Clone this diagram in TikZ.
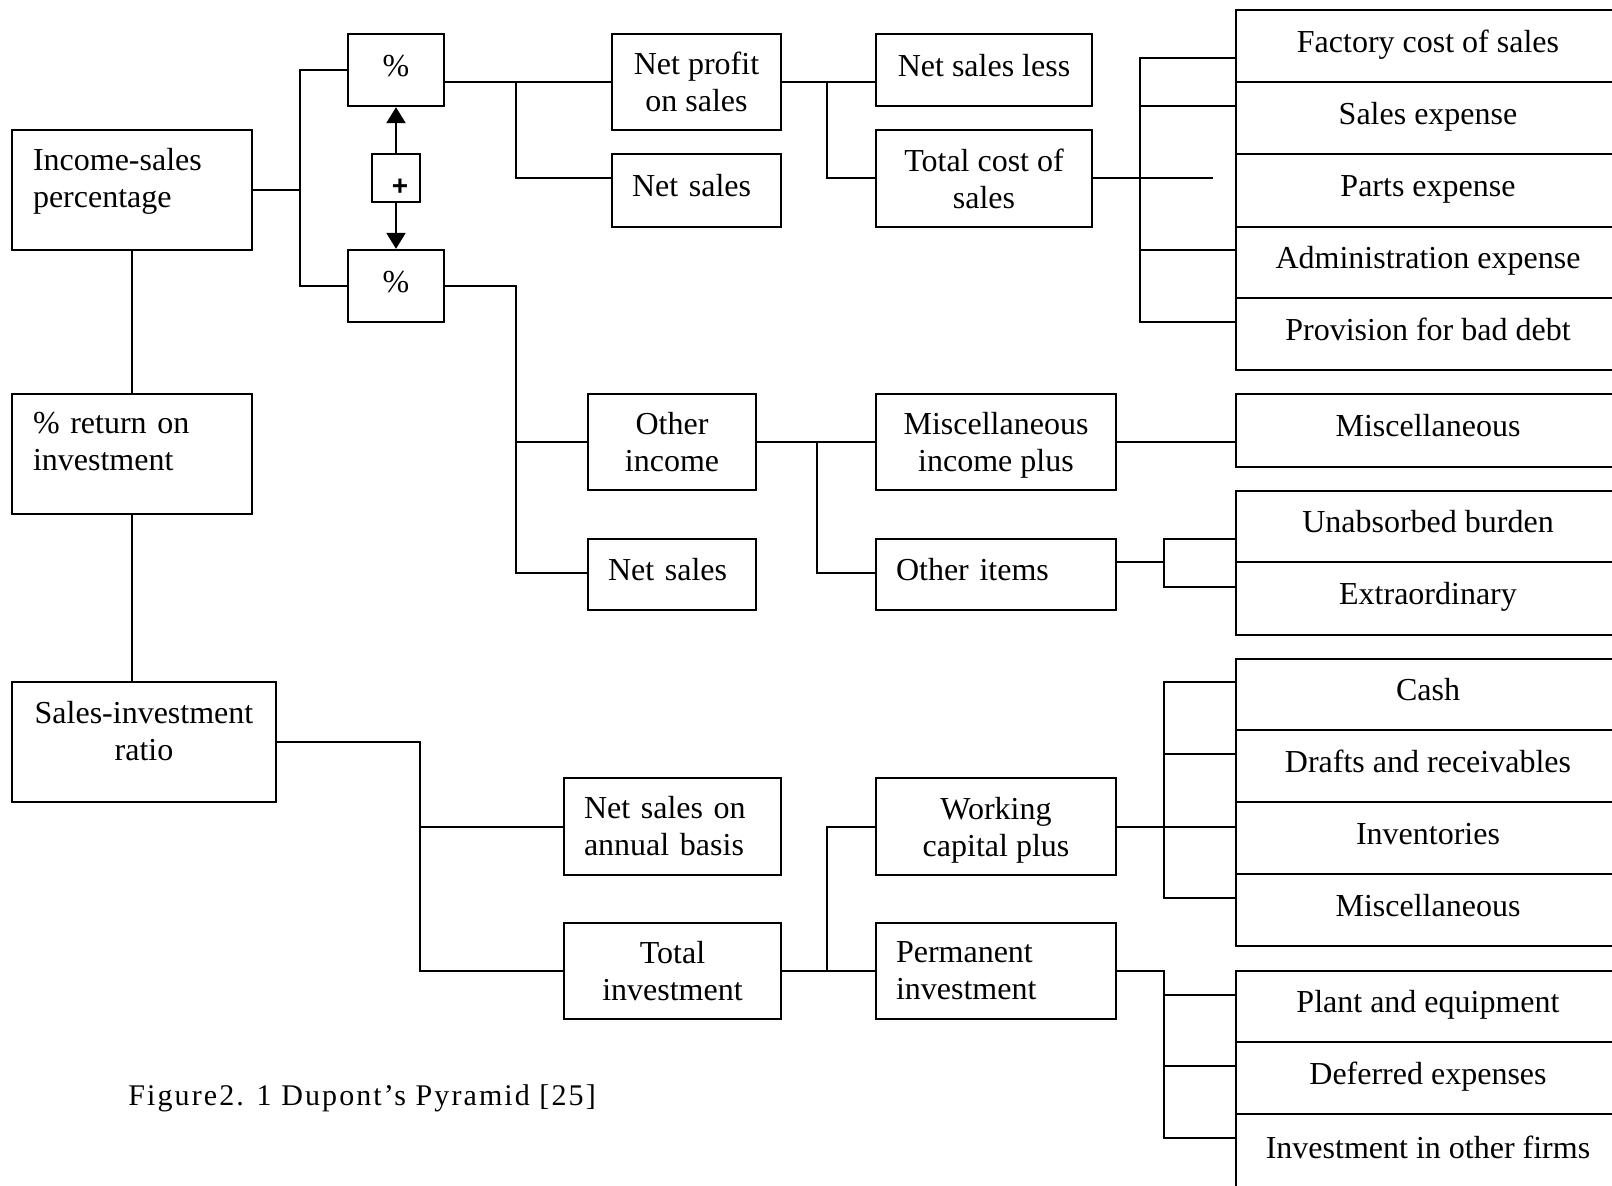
\documentclass[tikz,border=0pt]{standalone}
\usepackage{fontspec}
\setmainfont{Liberation Serif}
\newfontfamily\plusfont{Liberation Sans}
\newfontfamily\capfont[LetterSpace=7]{Liberation Serif}
\usetikzlibrary{arrows.meta}

\tikzset{
  box/.style={draw, line width=1.15pt, inner sep=0pt, align=center,
    font=\fontsize{16pt}{18.5pt}\selectfont},
  single/.style={text height=11pt, text depth=5pt},
  cell/.style={box, single, minimum width=192pt},
  conn/.style={line width=1pt},
  arr/.style={conn, -{Triangle[length=8pt,width=9.5pt]}}
}

\begin{document}
\begin{tikzpicture}[x=0.5pt, y=-0.5pt]
\useasboundingbox (0,0) rectangle (1612,1185);

% left column
\node[box, minimum width=120pt, minimum height=60pt, align=left, text width=99pt, text depth=31pt] (inc) at (132,190) {Income-sales\\percentage};
\node[box, minimum width=120pt, minimum height=60pt, align=left, text width=99pt, text depth=31.5pt] (ret) at (132,454) {\% return on\\investment};
\node[box, minimum width=132pt, minimum height=60pt, text depth=11pt] (sir) at (144,742) {Sales-investment\\ratio};

% ratio boxes and their link
\node[box, single, minimum width=48pt, minimum height=36pt] (pctA) at (396,70) {\%};
\node[box, single, minimum width=48pt, minimum height=36pt] (pctB) at (396,286) {\%};
\node[box, minimum width=24pt, minimum height=24pt, text height=17pt, text depth=0pt, font=\plusfont\bfseries\fontsize{14pt}{14pt}\selectfont] (plus) at (396,178) {\hspace*{4pt}+};

% second level
\node[box, minimum width=84.5pt, minimum height=48pt] (np) at (696.5,82) {Net profit\\on sales};
\node[box, single, minimum width=84.5pt, minimum height=36.5pt, align=left, text width=64.5pt] (ns1) at (696.5,190.5) {Net sales};
\node[box, minimum width=84pt, minimum height=48pt] (oi) at (672,442) {Other\\income};
\node[box, single, minimum width=84pt, minimum height=35.5pt, align=left, text width=64pt] (ns2) at (672,574.5) {Net sales};
\node[box, minimum width=108.5pt, minimum height=48.5pt, align=left, text width=88.5pt] (nsa) at (672.5,826.5) {Net sales on\\annual basis};
\node[box, minimum width=108.5pt, minimum height=48pt] (ti) at (672.5,971) {Total\\investment};

% third level
\node[box, single, minimum width=108pt, minimum height=36pt] (nsl) at (984,70) {Net sales less};
\node[box, minimum width=108pt, minimum height=48.5pt] (tcs) at (984,178.5) {Total cost of\\sales};
\node[box, minimum width=120pt, minimum height=48pt, text depth=0pt] (mip) at (996,442) {Miscellaneous\\income plus};
\node[box, single, minimum width=120pt, minimum height=35.5pt, align=left, text width=100pt] (oit) at (996,574.5) {Other items};
\node[box, minimum width=120pt, minimum height=48.5pt, text depth=0pt] (wcp) at (996,826.5) {Working\\capital plus};
\node[box, minimum width=120pt, minimum height=48pt, align=left, text width=100pt] (pi) at (996,971) {Permanent\\investment};

% right column
\node[cell, minimum height=36pt] (fac) at (1428,46) {Factory cost of sales};
\node[cell, minimum height=36pt] (sal) at (1428,118) {Sales expense};
\node[cell, minimum height=36.5pt] (par) at (1428,190.5) {Parts expense};
\node[cell, minimum height=35.5pt] (adm) at (1428,262.5) {Administration expense};
\node[cell, minimum height=36pt] (prov) at (1428,334) {Provision for bad debt};
\node[cell, minimum height=36.5pt] (mis1) at (1428,430.5) {Miscellaneous};
\node[cell, minimum height=35.5pt] (unab) at (1428,526.5) {Unabsorbed burden};
\node[cell, minimum height=36.5pt] (extra) at (1428,598.5) {Extraordinary};
\node[cell, minimum height=35.5pt] (cash) at (1428,694.5) {Cash};
\node[cell, minimum height=36pt] (draft) at (1428,766) {Drafts and receivables};
\node[cell, minimum height=36pt] (inv) at (1428,838) {Inventories};
\node[cell, minimum height=36pt] (mis2) at (1428,910) {Miscellaneous};
\node[cell, minimum height=35.5pt] (plant) at (1428,1006.5) {Plant and equipment};
\node[cell, minimum height=36pt] (def) at (1428,1078) {Deferred expenses};
\node[cell, minimum height=38pt] (iof) at (1428,1152) {Investment in other firms};

% caption
\node[anchor=base west, inner sep=0pt, font=\capfont\fontsize{15pt}{18pt}\selectfont] (cap) at (128,1105) {Figure2. 1 Dupont’s Pyramid [25]};

% junction points
\coordinate (a1) at (300,190);
\coordinate (b1) at (516,82);
\coordinate (b2) at (516,178);
\coordinate (c1) at (827,82);
\coordinate (c2) at (827,178);
\coordinate (d0) at (1213,178);
\coordinate (d1) at (1140,58);
\coordinate (d2) at (1140,106);
\coordinate (d4) at (1140,250);
\coordinate (d5) at (1140,322);
\coordinate (e1) at (516,286);
\coordinate (e2) at (516,442);
\coordinate (e3) at (516,573);
\coordinate (f1) at (817,442);
\coordinate (f2) at (817,573);
\coordinate (g0) at (1164,562);
\coordinate (g1) at (1164,539);
\coordinate (g2) at (1164,587);
\coordinate (h1) at (420,742);
\coordinate (h2) at (420,827);
\coordinate (h3) at (420,971);
\coordinate (k1) at (827,971);
\coordinate (k2) at (827,827);
\coordinate (m1) at (1164,682);
\coordinate (m2) at (1164,754);
\coordinate (m4) at (1164,898);
\coordinate (n0) at (1164,971);
\coordinate (n1) at (1164,995);
\coordinate (n2) at (1164,1066);
\coordinate (n3) at (1164,1138);

% connectors
\draw[conn] (inc.south) -- (ret.north);
\draw[conn] (ret.south) -- (ret.south |- sir.north);

\draw[conn] (inc.east) -- (a1);
\draw[conn] (pctA.west) -| (a1) |- (pctB.west);
\draw[arr] (plus.north) -- (pctA.south);
\draw[arr] (plus.south) -- (pctB.north);

\draw[conn] (pctA.east |- b1) -- (np.west |- b1);
\draw[conn] (b1) -- (b2) -- (ns1.west |- b2);

\draw[conn] (np.east |- c1) -- (nsl.west |- c1);
\draw[conn] (c1) -- (c2) -- (tcs.west |- c2);

\draw[conn] (tcs.east |- d0) -- (d0);
\draw[conn] (fac.west |- d1) -- (d1) -- (d5) -- (prov.west |- d5);
\draw[conn] (d2) -- (sal.west |- d2);
\draw[conn] (d4) -- (adm.west |- d4);

\draw[conn] (pctB.east) -- (e1) -- (e3) -- (ns2.west |- e3);
\draw[conn] (e2) -- (oi.west |- e2);

\draw[conn] (oi.east) -- (mip.west);
\draw[conn] (f1) -- (f2) -- (oit.west |- f2);
\draw[conn] (mip.east) -- (mis1.west |- mip.east);

\draw[conn] (oit.east |- g0) -- (g0);
\draw[conn] (unab.west |- g1) -- (g1) -- (g2) -- (extra.west |- g2);

\draw[conn] (sir.east |- h1) -- (h1) -- (h3) -- (ti.west |- h3);
\draw[conn] (h2) -- (nsa.west |- h2);

\draw[conn] (ti.east) -- (pi.west);
\draw[conn] (k1) -- (k2) -- (wcp.west |- k2);

\draw[conn] (wcp.east) -- (inv.west |- wcp.east);
\draw[conn] (cash.west |- m1) -- (m1) -- (m4) -- (mis2.west |- m4);
\draw[conn] (m2) -- (draft.west |- m2);

\draw[conn] (pi.east) -- (n0) -- (n3) -- (iof.west |- n3);
\draw[conn] (n1) -- (plant.west |- n1);
\draw[conn] (n2) -- (def.west |- n2);
\end{tikzpicture}
\end{document}
